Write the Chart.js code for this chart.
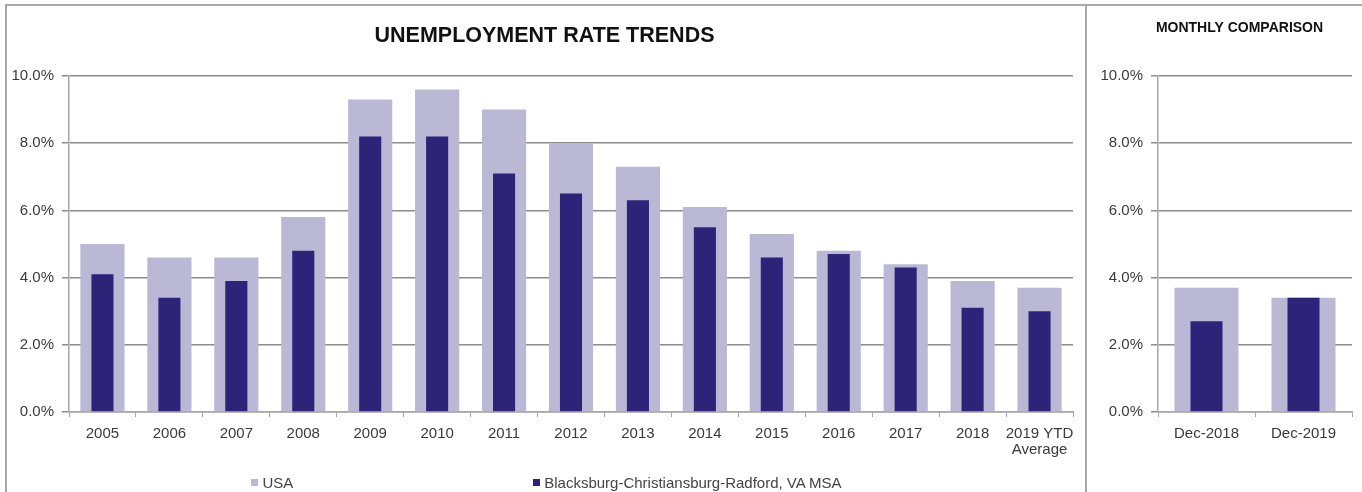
<!DOCTYPE html>
<html>
<head>
<meta charset="utf-8">
<script src="https://cdn.jsdelivr.net/npm/chart.js@4.4.1/dist/chart.umd.min.js"></script>
<style>
  body { margin: 0; background: #fff; font-family: "Liberation Sans", Arial, sans-serif; }
  #page { position: relative; width: 1362px; height: 492px; overflow: hidden; }
  #frame { position: absolute; left: 5px; top: 4px; width: 1380px; height: 600px;
           border-left: 2px solid #a8a8a8; border-top: 2px solid #a8a8a8; }
  #divider { position: absolute; left: 1085px; top: 4px; width: 2px; height: 500px; background: #a8a8a8; }
  #trendBox { position: absolute; left: 6px; top: 5px; width: 1081px; height: 487px; }
  #monthlyBox { position: absolute; left: 1087px; top: 5px; width: 275px; height: 487px; }
  #legend { position: absolute; left: 6px; top: 472px; width: 1081px; height: 20px;
            display: flex; justify-content: center; gap: 240px; font-size: 15px; color: #444; }
  .item { display: flex; align-items: center; white-space: nowrap; }
  .swatch { width: 7px; height: 7px; margin-right: 4px; }
</style>
</head>
<body>
<div id="page">
  <div id="frame"></div>
  <div id="divider"></div>
  <div id="trendBox"><canvas id="trend"></canvas></div>
  <div id="monthlyBox"><canvas id="monthly"></canvas></div>
  <div id="legend"></div>
</div>

<script>
// yearly averages
const years = ['2005', '2006', '2007', '2008', '2009', '2010', '2011', '2012', '2013',
               '2014', '2015', '2016', '2017', '2018', ['2019 YTD', 'Average']];
const usaYearly = [5.0, 4.6, 4.6, 5.8, 9.3, 9.6, 9.0, 8.0, 7.3, 6.1, 5.3, 4.8, 4.4, 3.9, 3.7];
const msaYearly = [4.1, 3.4, 3.9, 4.8, 8.2, 8.2, 7.1, 6.5, 6.3, 5.5, 4.6, 4.7, 4.3, 3.1, 3.0];

// month vs month
const months = ['Dec-2018', 'Dec-2019'];
const usaMonthly = [3.7, 3.4];
const msaMonthly = [2.7, 3.4];

const yTicks = [0, 2, 4, 6, 8, 10];

const usaLabel = 'USA';
const msaLabel = 'Blacksburg-Christiansburg-Radford, VA MSA';
const usaColor = '#bbb8d6';
const msaColor = '#2d2379';

const fontFamily = '"Liberation Sans", Arial, sans-serif';
const gridColor = '#8c8c8c';
const axisColor = '#a8a8a8';
const textColor = '#3a3a3a';

// nudges the title sideways (the small panel title sits right of centre)
const titleShift = {
    id: 'titleShift',
    afterLayout(chart, args, opts) {
        if (opts.dx) chart.titleBlock.left += opts.dx;
    }
};

function makeDatasets(usa, msa) {
    // msa gets the lower order so it is drawn on top of the wide usa bar
    return [
        { label: usaLabel, data: usa, backgroundColor: usaColor, grouped: false,
          barPercentage: 0.66, categoryPercentage: 1, order: 2 },
        { label: msaLabel, data: msa, backgroundColor: msaColor, grouped: false,
          barPercentage: 0.33, categoryPercentage: 1, order: 1 }
    ];
}

function makeOptions(titleText, titleSize, titlePad, titleDx, yWidth, padding) {
    return {
        responsive: true,
        maintainAspectRatio: false,
        animation: false,
        layout: { padding: padding },
        plugins: {
            legend: { display: false },
            tooltip: { enabled: false },
            titleShift: { dx: titleDx },
            title: {
                display: true,
                text: titleText,
                color: '#111',
                font: { family: fontFamily, size: titleSize, weight: 'bold', lineHeight: 1.2 },
                padding: titlePad
            }
        },
        scales: {
            x: {
                offset: true,
                grid: { offset: true, drawOnChartArea: false, drawTicks: true, tickLength: 5, color: axisColor },
                border: { display: true, color: axisColor, width: 1.5 },
                ticks: { color: textColor, padding: 9, maxRotation: 0, autoSkip: false,
                         font: { family: fontFamily, size: 15, lineHeight: 1.05 } },
                afterFit: scale => { scale.height = 80; }
            },
            y: {
                min: 0,
                max: 10,
                afterBuildTicks: scale => { scale.ticks = yTicks.map(v => ({ value: v })); },
                grid: { color: gridColor, lineWidth: 1.5, tickLength: 7 },
                border: { display: true, color: axisColor, width: 1.5 },
                ticks: { color: textColor, padding: 8,
                         font: { family: fontFamily, size: 15 },
                         callback: v => v.toFixed(1) + '%' },
                afterFit: scale => { scale.width = yWidth; }
            }
        }
    };
}

new Chart(document.getElementById('trend'), {
    type: 'bar',
    data: { labels: years, datasets: makeDatasets(usaYearly, msaYearly) },
    options: makeOptions('UNEMPLOYMENT RATE TRENDS', 21.5, { top: 18, bottom: 27.2 }, 10, 63,
                         { left: 0, right: 14, top: 0, bottom: 0 }),
    plugins: [titleShift]
});

new Chart(document.getElementById('monthly'), {
    type: 'bar',
    data: { labels: months, datasets: makeDatasets(usaMonthly, msaMonthly) },
    options: makeOptions('MONTHLY COMPARISON', 14, { top: 15, bottom: 39.2 }, 40, 71,
                         { left: 0, right: 10, top: 0, bottom: 0 }),
    plugins: [titleShift]
});

// legend for the trend panel
const legendEl = document.getElementById('legend');
[[usaLabel, usaColor], [msaLabel, msaColor]].forEach(([text, color]) => {
    const item = document.createElement('div');
    item.className = 'item';
    const sw = document.createElement('span');
    sw.className = 'swatch';
    sw.style.background = color;
    item.appendChild(sw);
    item.appendChild(document.createTextNode(text));
    legendEl.appendChild(item);
});
</script>
</body>
</html>
